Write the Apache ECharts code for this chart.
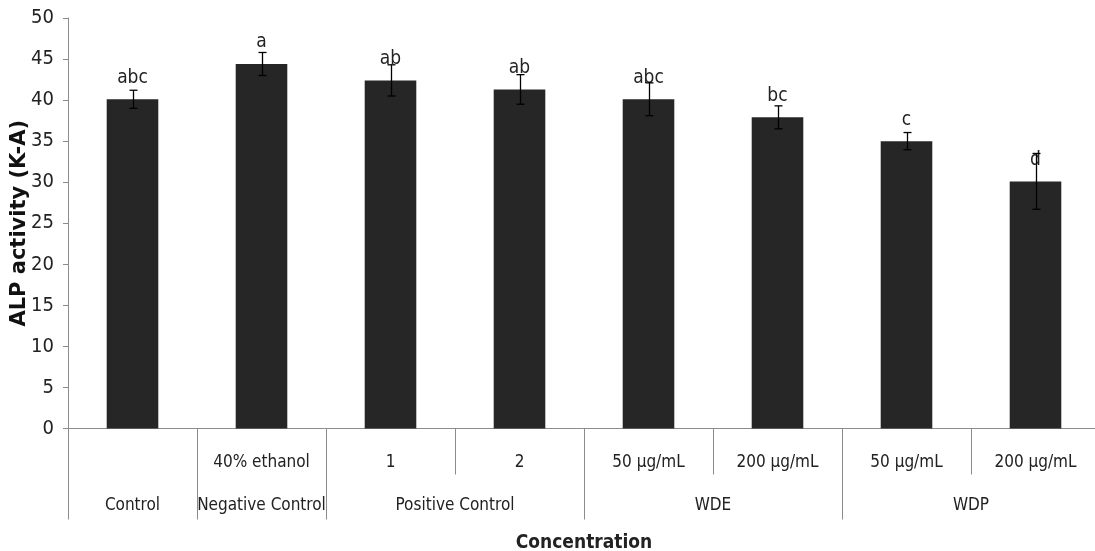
<!DOCTYPE html>
<html>
<head>
<meta charset="utf-8">
<script src="https://cdn.jsdelivr.net/npm/echarts@6/dist/echarts.min.js"></script>
<style>
  html, body { margin: 0; padding: 0; background: #fff; }
  #chart { width: 1095px; height: 551px; }
</style>
</head>
<body>
<div id="chart"></div>
<script>
// Treatment sub-labels (first row) and treatment groups (second row)
const subLabels = ['', '40% ethanol', '1', '2', '50 µg/mL', '200 µg/mL', '50 µg/mL', '200 µg/mL'];
const groupNames = ['Control', 'Negative Control', 'Positive Control', 'WDE', 'WDP'];
const groupSpans = [1, 1, 2, 2, 2];

// ALP activity (K-A): means, standard errors, significance letters
const means = [40.1, 44.4, 42.4, 41.3, 40.1, 37.9, 35.0, 30.1];
const errors = [1.1, 1.4, 1.9, 1.8, 2.0, 1.4, 1.05, 3.4];
const letters = ['abc', 'a', 'ab', 'ab', 'abc', 'bc', 'c', 'd'];

const yTicks = { min: 0, max: 50, interval: 5 };

const narrow = "'Liberation Sans Narrow', 'DejaVu Sans Condensed', 'Arial Narrow', sans-serif";
const gray = '#8c8c8c';
const ink = '#222';

// Group layout on a half-category scale: boundaries at even steps, centres at odd
const groupBounds = [0];
const groupCentres = [];
groupSpans.forEach(function (s) {
  const start = groupBounds[groupBounds.length - 1];
  groupCentres.push(start + s);
  groupBounds.push(start + 2 * s);
});
const halfSteps = groupBounds[groupBounds.length - 1];

const chart = echarts.init(document.getElementById('chart'), null, { renderer: 'canvas' });

chart.setOption({
  animation: false,
  backgroundColor: '#fff',
  grid: { left: 68, top: 18, width: 1032, height: 410.5, outerBoundsMode: 'none', containLabel: false },
  xAxis: [
    {
      type: 'category',
      data: subLabels,
      position: 'bottom',
      axisLine: { lineStyle: { color: gray, width: 1 } },
      axisTick: { show: true, length: 46, lineStyle: { color: gray, width: 1 } },
      axisLabel: { margin: 26, fontFamily: narrow, fontSize: 17, color: ink, interval: 0 }
    },
    {
      type: 'value',
      min: 0,
      max: halfSteps,
      position: 'bottom',
      axisLine: { show: false },
      splitLine: { show: false },
      axisTick: { show: true, length: 91, customValues: groupBounds, lineStyle: { color: gray, width: 1 } },
      axisLabel: {
        margin: 69,
        customValues: groupCentres,
        fontFamily: narrow, fontSize: 17, color: ink,
        formatter: function (v) { return groupNames[groupCentres.indexOf(v)]; }
      },
      name: 'Concentration',
      nameLocation: 'middle',
      nameGap: 105,
      nameMoveOverlap: false,
      nameTextStyle: { fontFamily: narrow, fontSize: 19, fontWeight: 'bold', color: ink }
    }
  ],
  yAxis: {
    type: 'value',
    min: yTicks.min,
    max: yTicks.max,
    interval: yTicks.interval,
    axisLine: { show: true, lineStyle: { color: gray, width: 1 } },
    axisTick: { show: true, length: 5, lineStyle: { color: gray } },
    splitLine: { show: false },
    axisLabel: { margin: 14, fontFamily: narrow, fontSize: 20, color: ink },
    name: 'ALP activity (K-A)',
    nameLocation: 'middle',
    nameGap: 38,
    nameMoveOverlap: false,
    nameTextStyle: { fontFamily: "'DejaVu Sans', Verdana, sans-serif", fontSize: 21, fontWeight: 'bold', color: '#111' }
  },
  series: [
    {
      type: 'bar',
      xAxisIndex: 0,
      data: means,
      barWidth: '40%',
      itemStyle: { color: '#262626' },
      label: {
        show: true,
        position: 'top',
        distance: 12,
        fontFamily: narrow,
        fontSize: 19,
        color: ink,
        formatter: function (p) { return letters[p.dataIndex]; }
      }
    },
    {
      type: 'custom',
      xAxisIndex: 0,
      z: 5,
      data: means.map(function (m, i) { return [i, m - errors[i], m + errors[i]]; }),
      renderItem: function (params, api) {
        const lo = api.coord([api.value(0), api.value(1)]);
        const hi = api.coord([api.value(0), api.value(2)]);
        const x = Math.round(lo[0]) + 0.5;
        const cap = 4;
        const style = { stroke: '#000', lineWidth: 1.3 };
        return {
          type: 'group',
          children: [
            { type: 'line', shape: { x1: x, y1: hi[1], x2: x, y2: lo[1] }, style: style },
            { type: 'line', shape: { x1: x - cap, y1: hi[1], x2: x + cap, y2: hi[1] }, style: style },
            { type: 'line', shape: { x1: x - cap, y1: lo[1], x2: x + cap, y2: lo[1] }, style: style }
          ]
        };
      }
    }
  ]
});
</script>
</body>
</html>
